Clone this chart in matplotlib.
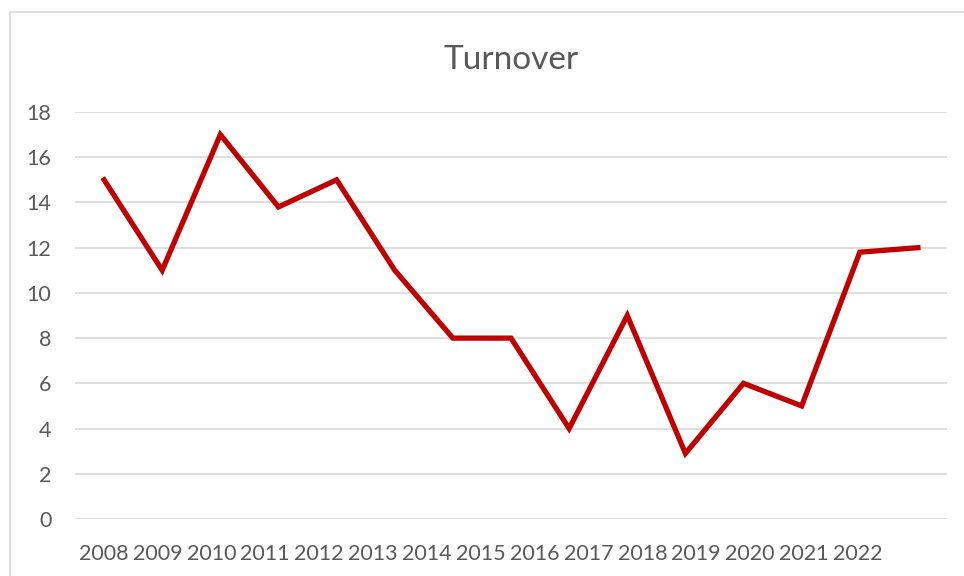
import matplotlib
matplotlib.use('Agg')
import matplotlib.pyplot as plt
from matplotlib.patches import Rectangle
import numpy as np

years = ['2008', '2009', '2010', '2011', '2012', '2013', '2014', '2015',
         '2016', '2017', '2018', '2019', '2020', '2021', '2022']
turnover = [15, 11, 17, 13.8, 15, 11, 8, 8, 4, 9, 2.9, 6, 5, 11.8, 12]

text_grey = '#595959'
grid_grey = '#D9D9D9'
line_red = '#C00000'

plt.rcParams['font.family'] = ['Lato', 'DejaVu Sans']

fig = plt.figure(figsize=(9.64, 5.76), dpi=100)
ax = fig.add_axes([75 / 964, 57 / 576, 872 / 964, 407 / 576])

x = np.arange(len(turnover))
ax.plot(x, turnover, color=line_red, linewidth=3.8, solid_joinstyle='miter')

ax.set_xlim(-0.5, len(turnover) - 0.5)
ax.set_ylim(0, 18)
ax.set_yticks(range(0, 19, 2))
ax.tick_params(axis='y', length=0, pad=17, labelsize=15.5, labelcolor=text_grey)
ax.grid(axis='y', color=grid_grey, linewidth=1.2)
ax.set_axisbelow(True)
for s in ax.spines.values():
    s.set_visible(False)

# category labels in the original sit a bit tighter than the points
ax.set_xticks(x * 0.927 - 0.01)
ax.set_xticklabels(years)
ax.tick_params(axis='x', length=0, pad=18, labelsize=15.5, labelcolor=text_grey)

fig.text(0.5 * (75 + 947) / 964, 1 - 60 / 576, 'Turnover', ha='center', va='center',
         fontsize=24, color=text_grey)

# chart frame
fig.patches.append(Rectangle((10 / 964, -0.1), 1.2, 1.1 - 12 / 576,
                             transform=fig.transFigure, fill=False,
                             edgecolor=grid_grey, linewidth=1.2))

fig.savefig('out.png', dpi=100)
